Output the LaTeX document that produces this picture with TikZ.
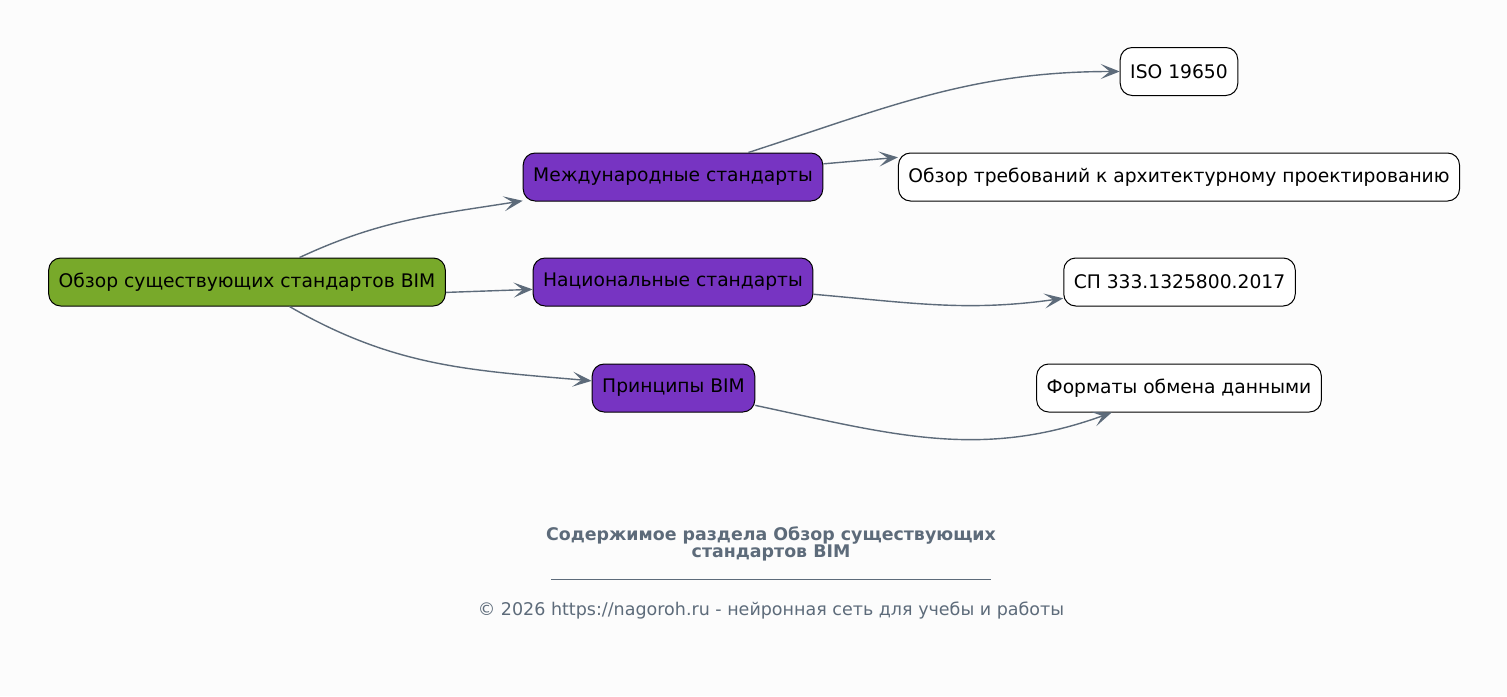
\documentclass[tikz,border=0pt]{standalone}
\usepackage{fontspec}
\setmainfont{DejaVu Sans}
\usetikzlibrary{arrows.meta}
\definecolor{bgcol}{HTML}{FCFCFC}
\definecolor{rootcol}{HTML}{78A92A}
\definecolor{topiccol}{HTML}{7734C2}
\definecolor{linkcol}{HTML}{5D6B7A}

\begin{document}
\begin{tikzpicture}[x=1pt,y=1pt,
  topic/.style ={draw, rounded corners=12pt, minimum height=48pt, inner xsep=10pt,
                 font=\fontsize{18.7}{22}\selectfont, line width=1pt},
  root/.style  ={topic, fill=rootcol},
  branch/.style={topic, fill=topiccol},
  leaf/.style  ={topic, fill=white},
  link/.style  ={draw=linkcol, line width=1.4pt,
                 -{Stealth[length=19pt,width=15pt,inset=9pt]}}]
 \fill[bgcol] (0,0) rectangle (1507,-696);
 \useasboundingbox (0,0) rectangle (1507,-696);

 \node[root]   (R)  at (247,-282)   {Обзор существующих стандартов BIM};
 \node[branch] (B1) at (673,-177)   {Международные стандарты};
 \node[branch] (B2) at (673,-282)   {Национальные стандарты};
 \node[branch] (B3) at (673.5,-388) {Принципы BIM};
 \node[leaf]   (L1) at (1179,-71.5) {ISO 19650};
 \node[leaf]   (L2) at (1179,-177)  {Обзор требований к архитектурному проектированию};
 \node[leaf]   (L3) at (1179.5,-282) {СП 333.1325800.2017};
 \node[leaf]   (L4) at (1179,-388)  {Форматы обмена данными};

 \draw[link] (R) to[out=25,in=189] (B1);
 \draw[link] (R.-3) -- (B2.183);
 \draw[link] (R) to[out=-30,in=175] (B3);
 \draw[link] (B1) to[out=18,in=180] (L1);
 \draw[link] (B1.5) -- (L2.176);
 \draw[link] (B2) to[out=-5,in=188] (L3);
 \draw[link] (B3) to[out=-12,in=200] (L4);

 \node[text=linkcol, font=\fontsize{17.4}{17}\selectfont\bfseries, align=center]
   (title) at (771,-543.5) {Содержимое раздела Обзор существующих\\стандартов BIM};
 \draw[linkcol, line width=0.8pt] (551,-579) -- (991,-579);
 \node[text=linkcol, font=\fontsize{17.5}{19}\selectfont]
   (copy) at (771,-611) {© 2026 https://nagoroh.ru - нейронная сеть для учебы и работы};
\end{tikzpicture}
\end{document}
